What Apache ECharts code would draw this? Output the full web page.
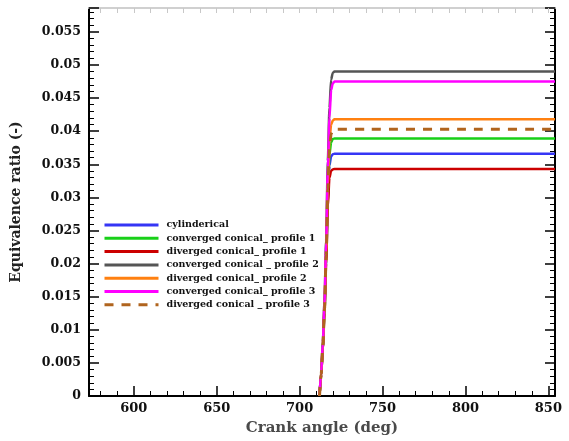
<!DOCTYPE html>
<html>
<head>
<meta charset="utf-8">
<script src="https://cdn.jsdelivr.net/npm/echarts@6/dist/echarts.min.js"></script>
<style>html,body{margin:0;padding:0;background:#fff}#c{width:569px;height:441px}</style>
</head>
<body>
<div id="c"></div>
<script>
var crankAngle = [712, 713, 714, 715, 716, 717, 718, 719, 720, 721, 722, 740, 800, 854];
var seriesNames = ['cylinderical', 'converged conical_ profile 1', 'diverged conical_ profile 1',
  'converged conical _ profile 2', 'diverged conical_ profile 2', 'converged conical_ profile 3',
  'diverged conical _ profile 3'];
var cylinderical = [0, 0.0032, 0.0073, 0.0128, 0.0204, 0.0295, 0.0348, 0.0362, 0.0365, 0.0366, 0.0366, 0.0366, 0.0366, 0.0366];
var convergedP1 = [0, 0.0032, 0.0074, 0.0130, 0.0208, 0.0305, 0.0365, 0.0383, 0.0388, 0.0389, 0.0389, 0.0389, 0.0389, 0.0389];
var divergedP1  = [0, 0.0031, 0.0072, 0.0126, 0.0200, 0.0285, 0.0330, 0.0340, 0.0342, 0.0343, 0.0343, 0.0343, 0.0343, 0.0343];
var convergedP2 = [0, 0.0036, 0.0082, 0.0143, 0.0236, 0.0355, 0.0435, 0.0478, 0.0488, 0.0490, 0.0490, 0.0490, 0.0490, 0.0490];
var divergedP2  = [0, 0.0033, 0.0076, 0.0133, 0.0215, 0.0320, 0.0385, 0.0410, 0.0416, 0.0418, 0.0418, 0.0418, 0.0418, 0.0418];
var convergedP3 = [0, 0.0035, 0.0080, 0.0140, 0.0230, 0.0345, 0.0420, 0.0462, 0.0472, 0.0475, 0.0475, 0.0475, 0.0475, 0.0475];
var divergedP3  = [0, 0.0033, 0.0075, 0.0131, 0.0212, 0.0312, 0.0375, 0.0396, 0.0401, 0.0403, 0.0403, 0.0403, 0.0403, 0.0403];
var xTickLabels = [600, 650, 700, 750, 800, 850];
var xMinorTicks = [580, 590, 610, 620, 630, 640, 660, 670, 680, 690, 710, 720, 730, 740, 760, 770, 780, 790, 810, 820, 830, 840];

var allValues = [cylinderical, convergedP1, divergedP1, convergedP2, divergedP2, convergedP3, divergedP3];
var colors = ['#3535f5', '#18d018', '#cc0000', '#555555', '#ff8010', '#ff00ff', '#b0641e'];

function pairs(vals) { return crankAngle.map(function (x, i) { return [x, vals[i]]; }); }

var fontF = '"DejaVu Serif", serif';
var series = allValues.map(function (vals, i) {
  return {
    name: seriesNames[i], type: 'line', data: pairs(vals), symbol: 'none',
    smooth: 0.25, smoothMonotone: 'x',
    xAxisIndex: 0, yAxisIndex: 0,
    lineStyle: { color: colors[i], width: i === 6 ? 3 : 2.5, type: i === 6 ? [9, 8] : 'solid' },
    itemStyle: { color: colors[i] }
  };
});

var chart = echarts.init(document.getElementById('c'));
chart.setOption({
  animation: false,
  backgroundColor: '#fff',
  grid: { left: 89, right: 14, top: 8, bottom: 42 },
  legend: {
    orient: 'vertical', left: 103, top: 220, padding: 0, itemWidth: 54, itemHeight: 10, itemGap: 3.3,
    data: seriesNames,
    itemStyle: { opacity: 0 },
    lineStyle: { width: 3 },
    textStyle: { fontFamily: fontF, fontWeight: 'bold', fontSize: 9.5, color: '#111', padding: [0, 0, 0, 3] }
  },
  xAxis: [
    { type: 'value', min: 573, max: 854, position: 'bottom',
      name: 'Crank angle (deg)', nameLocation: 'middle', nameGap: 25,
      nameTextStyle: { fontFamily: fontF, fontWeight: 'bold', fontSize: 15, color: '#4a4a4a' },
      axisLine: { lineStyle: { color: '#000', width: 2 } },
      axisTick: { inside: true, length: 10, customValues: xTickLabels, lineStyle: { color: '#000', width: 1.5 } },
      axisLabel: { customValues: xTickLabels, margin: 6, fontFamily: fontF, fontWeight: 'bold', fontSize: 13, color: '#111' },
      splitLine: { show: false } },
    { type: 'value', min: 573, max: 854, position: 'bottom',
      axisLine: { show: false },
      axisTick: { inside: true, length: 5, customValues: xMinorTicks, lineStyle: { color: '#000', width: 1 } },
      axisLabel: { show: false }, splitLine: { show: false } },
    { type: 'value', min: 573, max: 854, position: 'top',
      axisLine: { lineStyle: { color: '#d0d0d0', width: 2 } },
      axisTick: { inside: true, length: 5, customValues: xMinorTicks.concat(xTickLabels), lineStyle: { color: '#c8c8c8', width: 1 } },
      axisLabel: { show: false }, splitLine: { show: false } }
  ],
  yAxis: [
    { type: 'value', min: 0, max: 0.0586, interval: 0.005, position: 'left',
      name: 'Equivalence ratio (-)', nameLocation: 'middle', nameGap: 66,
      nameTextStyle: { fontFamily: fontF, fontWeight: 'bold', fontSize: 14, color: '#222' },
      axisLine: { lineStyle: { color: '#000', width: 2 } },
      axisTick: { inside: true, length: 10, lineStyle: { color: '#000', width: 1.5 } },
      minorTick: { show: true, splitNumber: 5, length: 5, lineStyle: { color: '#000', width: 1 } },
      axisLabel: { showMaxLabel: false, margin: 8, fontFamily: fontF, fontWeight: 'bold', fontSize: 12.5, color: '#111',
        formatter: function (v) { return String(+v.toFixed(3)); } },
      splitLine: { show: false } },
    { type: 'value', min: 0, max: 0.0586, interval: 0.005, position: 'right',
      axisLine: { lineStyle: { color: '#000', width: 2 } },
      axisTick: { inside: true, length: 10, lineStyle: { color: '#000', width: 1.5 } },
      minorTick: { show: true, splitNumber: 5, length: 5, lineStyle: { color: '#000', width: 1 } },
      axisLabel: { show: false }, splitLine: { show: false } }
  ],
  series: series
});
</script>
</body>
</html>
